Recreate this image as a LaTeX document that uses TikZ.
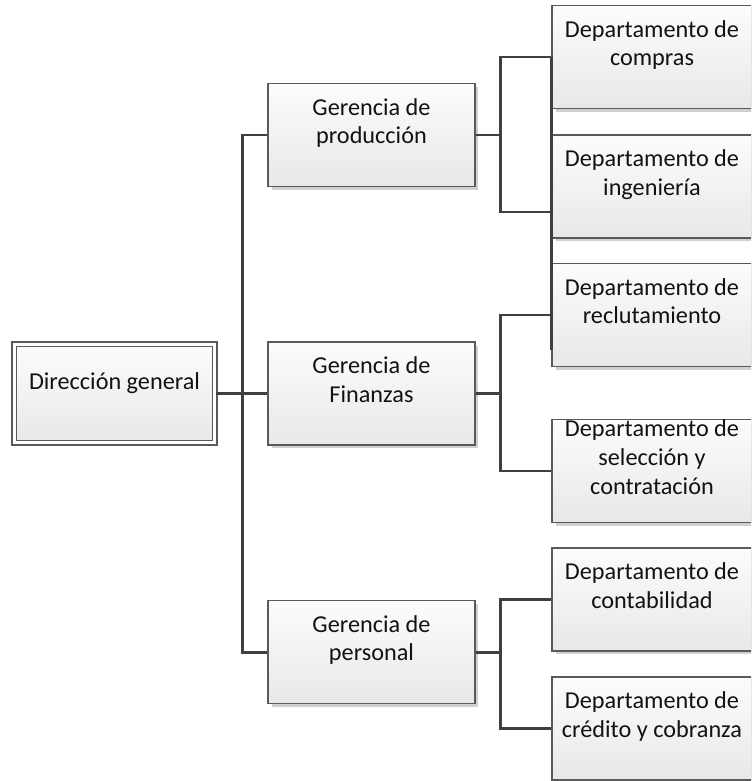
\documentclass[tikz,border=0pt]{standalone}
\usepackage{fontspec}
\setmainfont{Carlito}
\usetikzlibrary{shadows}
\definecolor{BoxLine}{HTML}{5A5A5A}
\definecolor{BoxTop}{HTML}{FCFCFC}
\definecolor{BoxBottom}{HTML}{E8E8E8}
\definecolor{BoxShadow}{HTML}{D0D0D0}
\definecolor{LinkGray}{HTML}{404040}
\definecolor{TextBlack}{HTML}{121212}

\begin{document}
\begin{tikzpicture}[x=0.02cm,y=-0.02cm,
  unit/.style={draw=BoxLine,line width=0.6pt,top color=BoxTop,bottom color=BoxBottom,inner sep=0pt,
    minimum width=4.14cm,minimum height=2.06cm,
    drop shadow={shadow xshift=0.07cm,shadow yshift=-0.07cm,fill=BoxShadow,opacity=1}},
  dept/.style={unit,minimum width=4cm},
  boxtext/.style={align=center,text=TextBlack,inner sep=0pt,font=\fontsize{13.8}{16.3}\selectfont,
    execute at begin node=\strut,execute at end node=\strut},
  link/.style={draw=LinkGray,line width=1.7pt}]
  \useasboundingbox (0,0) rectangle (751,781); \clip (0,0) rectangle (751,781);
  % boxes
  \node[unit,minimum width=4.02cm,minimum height=1.98cm,double=white,double distance=0.06cm] (dir) at (114.5,393.5) {};
  \node[unit] (prod) at (371.5,135) {}; \node[unit] (fin) at (371.5,393.5) {}; \node[unit] (pers) at (371.5,652) {};
  \node[dept] (compras) at (652,57) {}; \node[dept] (ing) at (652,186.5) {}; \node[dept] (reclu) at (652,315) {};
  \node[dept] (selec) at (652,471) {}; \node[dept] (conta) at (652,599.5) {}; \node[dept] (cred) at (652,728.5) {};
  % texts
  \node[boxtext] (dirtxt) at ([yshift=0.19cm]dir.center) {Dirección general};
  \node[boxtext] (prodtxt) at ([yshift=0.19cm]prod.center) {Gerencia de\\producción};
  \node[boxtext] (fintxt) at ([yshift=0.19cm]fin.center) {Gerencia de\\Finanzas};
  \node[boxtext] (perstxt) at ([yshift=0.19cm]pers.center) {Gerencia de\\personal};
  \node[boxtext] (comprastxt) at ([yshift=0.19cm]compras.center) {Departamento de\\compras};
  \node[boxtext] (ingtxt) at ([yshift=0.19cm]ing.center) {Departamento de\\ingeniería};
  \node[boxtext] (reclutxt) at ([yshift=0.19cm]reclu.center) {Departamento de\\reclutamiento};
  \node[boxtext] (selectxt) at ([yshift=0.19cm]selec.center) {Departamento de\\selección y\\contratación};
  \node[boxtext] (contatxt) at ([yshift=0.19cm]conta.center) {Departamento de\\contabilidad};
  \node[boxtext] (credtxt) at ([yshift=0.19cm]cred.center) {Departamento de\\crédito y cobranza};
  % connectors
  \draw[link] (dir.east) -- (fin.west); \draw[link] (prod.west) -- ++(-25,0) |- (pers.west);
  \draw[link] (prod.east) -- ++(25,0) |- (compras.west); \draw[link] (prod.east) -- ++(25,0) |- ([yshift=-0.51cm]ing.west);
  \draw[link] (compras.west) -- ([yshift=-0.7cm]reclu.west);
  \draw[link] (fin.east) -- ++(25,0) |- (reclu.west); \draw[link] (fin.east) -- ++(25,0) |- (selec.west);
  \draw[link] (pers.east) -- ++(25,0) |- (conta.west); \draw[link] (pers.east) -- ++(25,0) |- (cred.west);
\end{tikzpicture}
\end{document}
